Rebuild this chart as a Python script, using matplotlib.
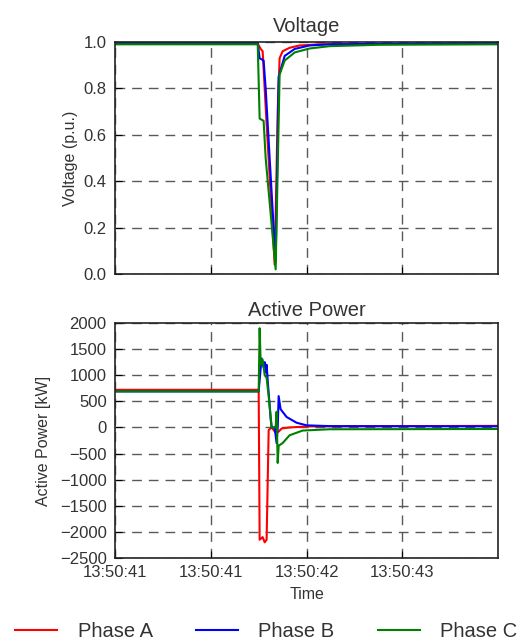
import matplotlib
matplotlib.use("Agg")
from matplotlib import pyplot as plt
from matplotlib.ticker import FuncFormatter

plt.rcParams['font.family'] = ['Liberation Sans', 'DejaVu Sans']

# time in seconds after 13:50:41
t_va = [0, 1.043, 1.065, 1.079, 1.101, 1.167, 1.189, 1.203, 1.225, 1.276, 1.349, 1.495, 2.8]
va = [0.993, 0.993, 0.97, 0.96, 0.72, 0.04, 0.70, 0.93, 0.96, 0.975, 0.985, 0.99, 0.993]

t_vb = [0, 1.043, 1.057, 1.086, 1.101, 1.174, 1.196, 1.240, 1.313, 1.422, 1.568, 2.8]
vb = [0.995, 0.995, 0.93, 0.92, 0.80, 0.05, 0.85, 0.94, 0.97, 0.985, 0.99, 0.995]

t_vc = [0, 1.043, 1.057, 1.086, 1.101, 1.174, 1.203, 1.240, 1.313, 1.422, 1.568, 1.932, 2.8]
vc = [0.99, 0.99, 0.67, 0.66, 0.50, 0.02, 0.86, 0.92, 0.955, 0.972, 0.982, 0.988, 0.99]

t_pa = [0, 1.050, 1.057, 1.079, 1.094, 1.108, 1.123, 1.145, 1.174, 1.196, 1.218, 1.276, 1.422, 2.8]
pa = [720, 720, -2150, -2100, -2200, -2150, -50, 0, -100, -80, -20, 0, 20, 30]

t_pb = [0, 1.050, 1.065, 1.072, 1.086, 1.094, 1.101, 1.108, 1.116, 1.138, 1.145, 1.167,
        1.181, 1.189, 1.196, 1.210, 1.254, 1.327, 1.400, 1.568, 2.8]
pb = [690, 690, 1150, 1320, 1150, 1250, 1050, 1200, 900, 150, 0, 0,
      -300, 0, 600, 350, 200, 90, 40, 25, 20]

t_pc = [0, 1.050, 1.057, 1.065, 1.079, 1.094, 1.108, 1.123, 1.145, 1.174,
        1.181, 1.189, 1.196, 1.225, 1.276, 1.371, 1.568, 2.8]
pc = [690, 690, 1900, 1200, 1300, 1000, 950, 600, 0, 0,
      300, -680, -350, -300, -150, -60, -35, -30]

phase_names = ['Phase A', 'Phase B', 'Phase C']
colors = ['red', 'blue', 'green']
x_ticks = [0, 0.7, 1.4, 2.1]


def hms(x, pos):
    return "13:50:%02d" % int(41 + x)


fig = plt.figure(figsize=(5.22, 6.43), dpi=100)
ax1 = fig.add_axes([0.2203, 0.5739, 0.7340, 0.3608])
ax2 = fig.add_axes([0.2203, 0.1322, 0.7340, 0.3655])

for t, v, c, n in zip([t_va, t_vb, t_vc], [va, vb, vc], colors, phase_names):
    ax1.plot(t, v, color=c, lw=1.5, label=n)
for t, v, c in zip([t_pa, t_pb, t_pc], [pa, pb, pc], colors):
    ax2.plot(t, v, color=c, lw=1.5)

txt = '#333333'
ax1.set_ylim(0, 1.0)
ax1.set_yticks([0.0, 0.2, 0.4, 0.6, 0.8, 1.0])
ax1.set_title("Voltage", fontsize=14.5, color=txt, pad=7)
ax1.set_ylabel("Voltage (p.u.)", fontsize=11.5, color=txt)
ax1.tick_params(labelbottom=False)

ax2.set_ylim(-2500, 2000)
ax2.set_yticks(range(-2500, 2001, 500))
ax2.set_title("Active Power", fontsize=14.5, color=txt, pad=5)
ax2.set_ylabel("Active Power [kW]", fontsize=11.5, color=txt, labelpad=6)
ax2.set_xlabel("Time", fontsize=11.5, color=txt, labelpad=5)
ax2.xaxis.set_major_formatter(FuncFormatter(hms))

for ax in (ax1, ax2):
    ax.set_xlim(0, 2.8)
    ax.set_xticks(x_ticks)
    ax.grid(True, color='0.35', linestyle=(0, (7, 5)), lw=1)
    ax.tick_params(direction='in', labelsize=12, labelcolor=txt, length=5)
    ax.tick_params(axis='y', pad=6)
    ax.tick_params(axis='x', pad=5)
    for s in ax.spines.values():
        s.set_linewidth(1.2)
        s.set_color('#222222')

fig.legend(loc='lower center', ncol=3, frameon=False, fontsize=14.5,
           handlelength=2.1, handletextpad=1.0, columnspacing=2.15,
           bbox_to_anchor=(0.51, -0.025), labelcolor=txt)

fig.savefig("out.png", dpi=100)
